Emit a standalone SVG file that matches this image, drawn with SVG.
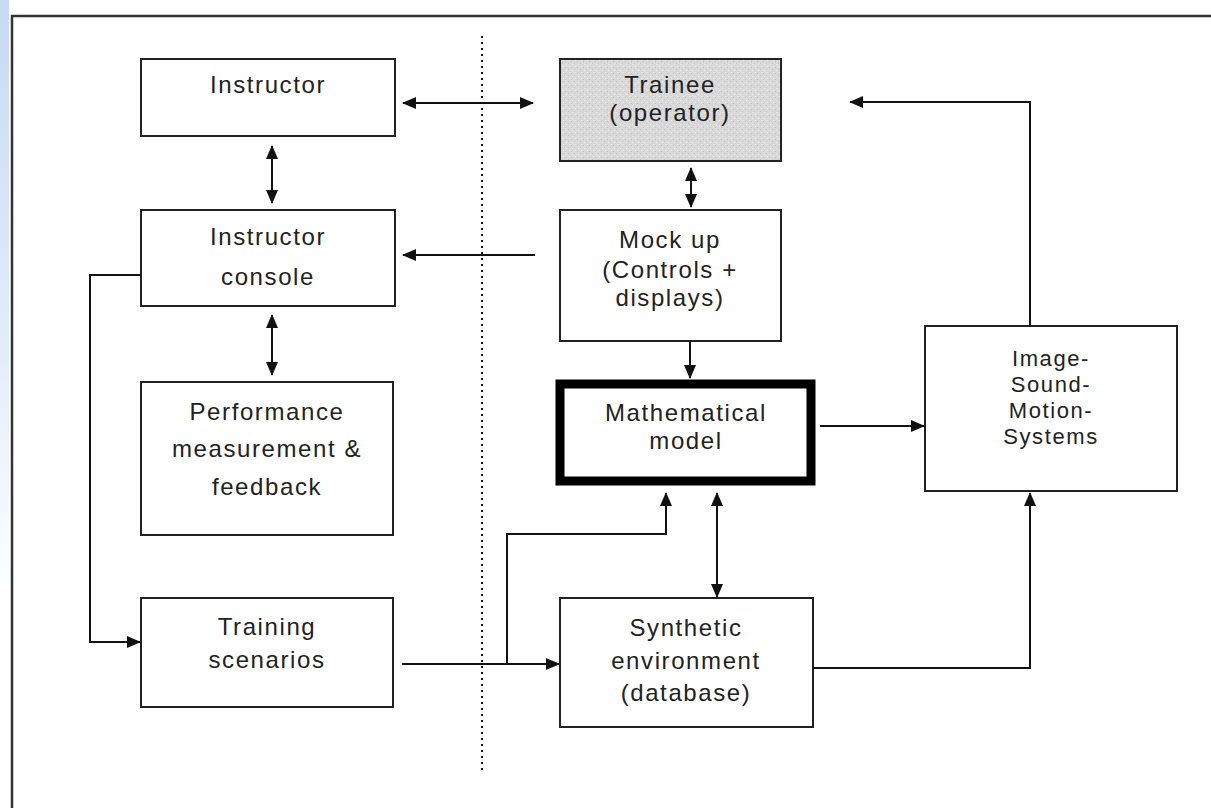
<svg xmlns="http://www.w3.org/2000/svg" width="1211" height="808" viewBox="0 0 1211 808">
<defs>
<linearGradient id="strip" x1="0" y1="0" x2="0" y2="1">
<stop offset="0" stop-color="#c6daf4"/>
<stop offset="0.6" stop-color="#e4eefa"/>
<stop offset="1" stop-color="#ffffff"/>
</linearGradient>
<pattern id="tex" width="6" height="6" patternUnits="userSpaceOnUse">
<rect width="6" height="6" fill="#d9d9d9"/>
<rect x="1" y="1" width="1" height="1" fill="#bfbfbf"/>
<rect x="4" y="3" width="1" height="1" fill="#c4c4c4"/>
<rect x="2" y="4" width="1" height="1" fill="#ececec"/>
<rect x="5" y="0" width="1" height="1" fill="#eeeeee"/>
</pattern>
<marker id="ah" markerWidth="14" markerHeight="12" refX="13" refY="6" orient="auto-start-reverse" markerUnits="userSpaceOnUse">
<path d="M0,0 L14,6 L0,12 z" fill="#111"/>
</marker>
<style>
.box{fill:#fff;stroke:#222;stroke-width:2}
.lbl{font-family:"Liberation Sans",Arial,sans-serif;font-size:24px;letter-spacing:1.6px;fill:#222;text-anchor:middle}
.sm{font-size:22px}
.con{fill:none;stroke:#111;stroke-width:2}
</style>
</defs>
<rect x="0" y="0" width="1211" height="808" fill="#fff"/>
<rect x="0" y="0" width="9" height="600" fill="url(#strip)"/>
<path d="M12,820 L12,16 L1215,16" fill="none" stroke="#333" stroke-width="2.5"/>
<line x1="482" y1="36" x2="482" y2="772" stroke="#111" stroke-width="2" stroke-dasharray="2,4"/>

<g id="instructor">
<rect class="box" x="141" y="59" width="254" height="77"/>
<text class="lbl" x="268" y="93">Instructor</text>
</g>
<g id="instructor-console">
<rect class="box" x="141" y="210" width="254" height="96"/>
<text class="lbl" x="268" y="245">Instructor</text>
<text class="lbl" x="268" y="285">console</text>
</g>
<g id="performance">
<rect class="box" x="141" y="382" width="252" height="153"/>
<text class="lbl" x="267" y="420">Performance</text>
<text class="lbl" x="267" y="457">measurement &amp;</text>
<text class="lbl" x="267" y="495">feedback</text>
</g>
<g id="training">
<rect class="box" x="141" y="598" width="252" height="109"/>
<text class="lbl" x="267" y="635">Training</text>
<text class="lbl" x="267" y="668">scenarios</text>
</g>
<g id="trainee">
<rect x="560" y="59" width="221" height="102" fill="url(#tex)" stroke="#222" stroke-width="2"/>
<text class="lbl" x="670" y="93">Trainee</text>
<text class="lbl" x="670" y="121">(operator)</text>
</g>
<g id="mockup">
<rect class="box" x="560" y="210" width="221" height="131"/>
<text class="lbl" x="670" y="248">Mock up</text>
<text class="lbl" x="670" y="278">(Controls +</text>
<text class="lbl" x="670" y="306">displays)</text>
</g>
<g id="math-model">
<rect x="560" y="384" width="251" height="97" fill="#fff" stroke="#000" stroke-width="9"/>
<text class="lbl" x="686" y="421">Mathematical</text>
<text class="lbl" x="686" y="449">model</text>
</g>
<g id="image-sound-motion">
<rect class="box" x="925" y="326" width="252" height="165"/>
<text class="lbl sm" x="1051" y="366">Image-</text>
<text class="lbl sm" x="1051" y="392">Sound-</text>
<text class="lbl sm" x="1051" y="418">Motion-</text>
<text class="lbl sm" x="1051" y="444">Systems</text>
</g>
<g id="synthetic-env">
<rect class="box" x="560" y="598" width="253" height="129"/>
<text class="lbl" x="686" y="636">Synthetic</text>
<text class="lbl" x="686" y="669">environment</text>
<text class="lbl" x="686" y="701">(database)</text>
</g>

<g id="connectors">
<line class="con" x1="403" y1="103" x2="533" y2="103" marker-start="url(#ah)" marker-end="url(#ah)"/>
<line class="con" x1="272" y1="146" x2="272" y2="203" marker-start="url(#ah)" marker-end="url(#ah)"/>
<line class="con" x1="272" y1="315" x2="272" y2="375" marker-start="url(#ah)" marker-end="url(#ah)"/>
<line class="con" x1="691" y1="168" x2="691" y2="207" marker-start="url(#ah)" marker-end="url(#ah)"/>
<line class="con" x1="535" y1="255" x2="403" y2="255" marker-end="url(#ah)"/>
<line class="con" x1="690" y1="341" x2="690" y2="378" marker-end="url(#ah)"/>
<line class="con" x1="820" y1="426" x2="924" y2="426" marker-end="url(#ah)"/>
<polyline class="con" points="1030,326 1030,102 850,102" marker-end="url(#ah)"/>
<polyline class="con" points="813,668 1030,668 1030,493" marker-end="url(#ah)"/>
<line class="con" x1="717" y1="493" x2="717" y2="597" marker-start="url(#ah)" marker-end="url(#ah)"/>
<line class="con" x1="402" y1="664" x2="559" y2="664" marker-end="url(#ah)"/>
<polyline class="con" points="507,664 507,534 666,534 666,493" marker-end="url(#ah)"/>
<polyline class="con" points="141,275 90,275 90,642 140,642" marker-end="url(#ah)"/>
</g>
</svg>
